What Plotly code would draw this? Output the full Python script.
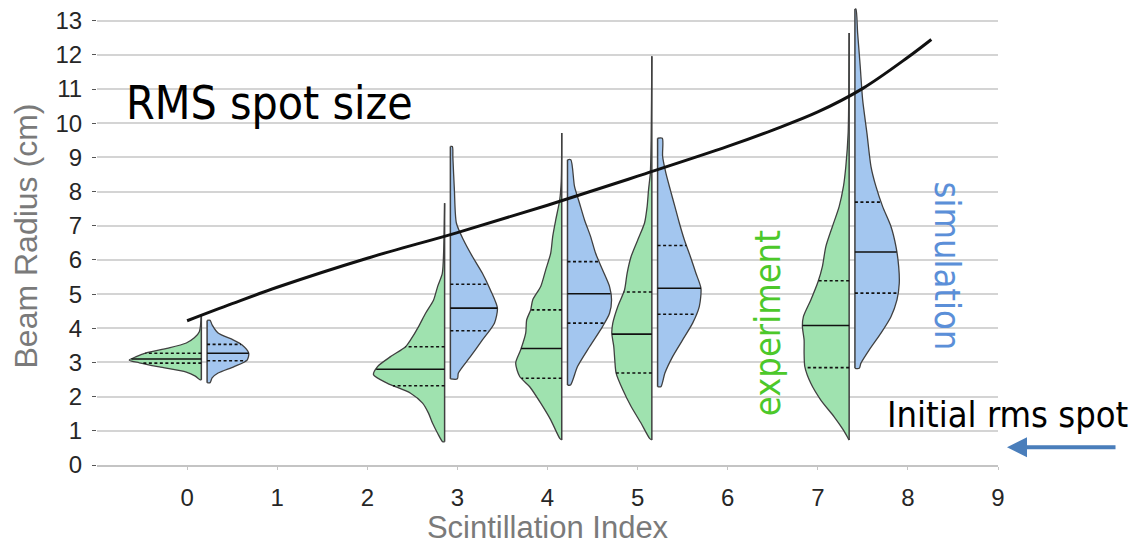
import numpy as np
import plotly.graph_objects as go

# ---------------- data ----------------
x_ticks = [0, 1, 2, 3, 4, 5, 6, 7, 8, 9]
y_ticks = list(range(0, 14))

# RMS spot size curve (scintillation index, beam radius cm)
rms_x = [0.0, 0.5, 1.0, 2.0, 3.0, 4.0, 5.0, 6.0, 6.5, 7.0, 7.5, 8.0, 8.26]
rms_y = [4.22, 4.72, 5.2, 6.05, 6.8, 7.6, 8.45, 9.32, 9.8, 10.33, 11.02, 11.93, 12.45]

# violin positions (scintillation index of each measurement set)
violin_pos = [0.19, 2.89, 4.19, 5.19, 7.38]

# experiment (green, left halves): radius grid and relative density
exp_r = [
    [2.49, 2.60, 2.72, 2.87, 2.99, 3.07, 3.17, 3.28, 3.42, 3.57, 3.72, 3.90, 4.39],
    [0.68, 0.93, 1.22, 1.51, 1.81, 2.10, 2.39, 2.64, 2.88, 3.17, 3.46, 3.66, 4.05, 4.44, 4.83, 5.22, 5.61, 6.20, 7.66],
    [0.73, 0.78, 1.32, 1.81, 2.29, 2.59, 2.98, 3.37, 3.86, 4.25, 4.54, 4.83, 5.22, 5.71, 6.20, 6.69, 7.17, 7.76, 8.30, 9.71],
    [0.73, 0.78, 1.22, 1.71, 2.20, 2.69, 3.07, 3.46, 3.86, 4.15, 4.64, 5.12, 5.61, 6.10, 6.59, 7.08, 7.56, 8.05, 8.54, 9.50, 11.96],
    [0.73, 0.78, 1.02, 1.41, 1.90, 2.39, 2.88, 3.27, 3.66, 4.05, 4.34, 4.83, 5.37, 5.81, 6.39, 6.98, 7.56, 8.15, 8.74, 9.71, 12.64],
]
exp_d = [
    [1, 6, 15, 42, 62, 72, 65, 55, 33, 15, 7, 2, 0],
    [2, 7, 12, 16, 22, 34, 57, 71, 67, 54, 39, 34, 26, 19, 11, 7, 2.3, 1, 0],
    [0, 2, 11, 21, 32, 42, 46, 41, 36, 35, 31, 29, 21, 16, 11, 9, 6, 2, 0.5, 0],
    [0, 2.3, 10.7, 20.7, 29, 35.7, 37, 38, 40, 39, 34, 27.3, 24.7, 20.7, 14, 7.3, 4.7, 3.3, 1.5, 0.7, 0],
    [0, 1, 5.7, 15, 28.3, 38.3, 44.3, 45, 45, 46.7, 45.7, 38.3, 31, 26.7, 23.3, 16.7, 10, 5.7, 3.3, 1, 0],
]
exp_quart = [
    [2.98, 3.10, 3.27],
    [2.32, 2.80, 3.46],
    [2.54, 3.41, 4.54],
    [2.69, 3.83, 5.06],
    [2.85, 4.08, 5.39],
]

# simulation (blue, right halves)
sim_r = [
    [2.41, 2.55, 2.69, 2.88, 3.07, 3.27, 3.51, 3.66, 3.86, 4.10, 4.23],
    [2.52, 2.69, 3.17, 3.66, 4.15, 4.59, 5.12, 5.61, 6.10, 6.59, 7.08, 8.05, 9.00, 9.32],
    [2.34, 2.88, 3.46, 4.05, 4.44, 4.83, 5.22, 5.71, 6.20, 6.69, 7.17, 7.66, 8.15, 8.93],
    [2.29, 2.69, 3.17, 3.66, 4.15, 4.64, 5.17, 5.61, 6.10, 6.59, 7.08, 7.56, 8.05, 8.54, 9.03, 9.56],
    [2.83, 2.98, 3.37, 3.86, 4.34, 4.83, 5.32, 5.81, 6.39, 6.98, 7.56, 8.15, 8.74, 9.71, 10.69, 11.66, 12.64, 13.34],
]
sim_d = [
    [3, 5, 11, 27, 40, 41.6, 35, 26, 11, 5, 3],
    [7, 8, 20, 32, 44, 47, 40, 32, 22, 13, 6, 4, 2.5, 2],
    [3, 10, 22, 35, 42, 44, 42, 35, 28, 23, 17, 12, 7, 3.3],
    [3.3, 7.3, 15, 25, 35, 41.7, 43.3, 38.3, 32.7, 26.7, 21.7, 17.3, 12.7, 8.3, 5, 4.7],
    [4.3, 6, 14.3, 26, 36, 42, 44.3, 43.7, 41, 36, 27.7, 21, 16, 12, 7.7, 5.3, 2.7, 1],
]
sim_quart = [
    [3.05, 3.27, 3.53],
    [3.93, 4.59, 5.29],
    [4.15, 5.01, 5.95],
    [4.41, 5.17, 6.42],
    [5.03, 6.23, 7.69],
]

# ---------------- style ----------------
DENS_SCALE = 1 / 90.0     # density units -> x-axis units
HALF_GAP = 0.032
GREEN = "#9fe2af"
BLUE = "#a3c6ef"
EDGE = "#404040"

fig = go.Figure()


def add_half(center, ys, ds, quarts, side, fill):
    ys = np.asarray(ys, float)
    ds = np.asarray(ds, float) * DENS_SCALE
    edge = center + side * HALF_GAP
    xs = np.concatenate([[edge], edge + side * ds, [edge]])
    yy = np.concatenate([[ys[0]], ys, [ys[-1]]])
    fig.add_trace(go.Scatter(x=xs, y=yy, mode="lines", fill="toself",
                             fillcolor=fill, line=dict(color=EDGE, width=1.3, shape="spline", smoothing=0.7),
                             hoverinfo="skip", showlegend=False))
    fig.add_trace(go.Scatter(x=[edge, edge], y=[ys[0], ys[-1]], mode="lines",
                             line=dict(color=EDGE, width=1.5),
                             hoverinfo="skip", showlegend=False))
    for i, q in enumerate(quarts):
        w = np.interp(q, ys, ds)
        fig.add_trace(go.Scatter(
            x=[edge, edge + side * w], y=[q, q], mode="lines",
            line=dict(color="#111111", width=1.6,
                      dash="solid" if i == 1 else "3px,2.5px"),
            hoverinfo="skip", showlegend=False))


for k, c in enumerate(violin_pos):
    add_half(c, exp_r[k], exp_d[k], exp_quart[k], -1, GREEN)
    add_half(c, sim_r[k], sim_d[k], sim_quart[k], +1, BLUE)

fig.add_trace(go.Scatter(x=rms_x, y=rms_y, mode="lines",
                         line=dict(color="#111111", width=3, shape="spline", smoothing=1.0),
                         hoverinfo="skip", showlegend=False))

fig.update_layout(
    width=1142, height=545,
    margin=dict(l=97, r=144, t=7, b=80, autoexpand=False),
    plot_bgcolor="white", paper_bgcolor="white",
    font=dict(family="Liberation Sans, Arial, sans-serif"),
    showlegend=False,
    xaxis=dict(range=[-1, 9], tickvals=x_ticks, ticktext=[str(v) for v in x_ticks],
               showgrid=False, zeroline=False, showline=True, linecolor="#c4c4c4", linewidth=1.5,
               ticks="outside", ticklen=3, tickcolor="#c4c4c4", automargin=False,
               tickfont=dict(size=24, color="#262626"), ticklabelstandoff=7,
               title=dict(text="Scintillation Index", font=dict(size=31, color="#7a7a7a"), standoff=8)),
    yaxis=dict(range=[0, 13.4], tickvals=y_ticks, ticktext=[str(v) for v in y_ticks],
               showgrid=True, gridcolor="#d4d4d4", gridwidth=1.5, zeroline=False, showline=False,
               ticks="outside", ticklen=4, tickcolor="#555555", automargin=False,
               tickfont=dict(size=24, color="#262626"), ticklabelstandoff=5,
               title=dict(text="Beam Radius (cm)", font=dict(size=32, color="#7a7a7a"), standoff=8)),
    annotations=[
        dict(text="RMS spot size", x=0.92, y=10.6, xref="x", yref="y", showarrow=False,
             font=dict(family="DejaVu Sans Condensed, DejaVu Sans", size=46, color="#000000")),
        dict(text="Initial rms spot", x=1.0105, y=0.111, xref="paper", yref="paper", showarrow=False,
             xanchor="center", yanchor="middle",
             font=dict(family="DejaVu Sans Condensed, DejaVu Sans", size=36, color="#000000")),
        dict(text="", x=1.010, y=0.039, xref="paper", yref="paper", showarrow=True,
             ax=110, ay=0, arrowhead=2, arrowsize=1, arrowwidth=4, arrowcolor="#4a7ebb"),
        dict(text="experiment", x=6.436, y=4.15, xref="x", yref="y", showarrow=False, textangle=-90,
             font=dict(family="DejaVu Sans Condensed, DejaVu Sans", size=36, color="#4cc82a")),
        dict(text="simulation", x=8.44, y=5.82, xref="x", yref="y", showarrow=False, textangle=90,
             font=dict(family="DejaVu Sans Condensed, DejaVu Sans", size=36, color="#5b8fd8")),
    ],
)

fig.write_html("out.html")
